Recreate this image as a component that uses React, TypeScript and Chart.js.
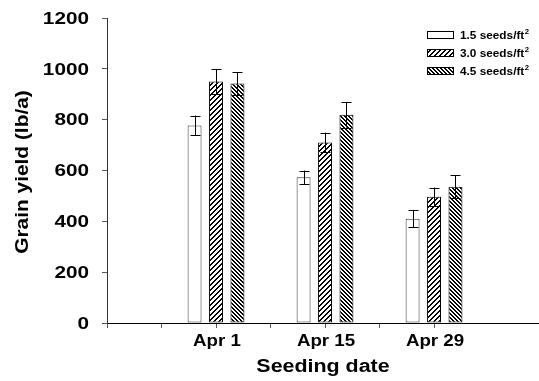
import React, { useEffect, useRef } from "react";
import { Chart, registerables } from "chart.js";

Chart.register(...registerables);

// Seeding dates and their positions on the x axis
const seedingDates = ["Apr 1", "Apr 15", "Apr 29"];
const datePositions = [1, 2, 3];

// Grain yield (lb/a) and standard errors by seeding rate
const rates = ["1.5 seeds/ft", "3.0 seeds/ft", "4.5 seeds/ft"];
const yield15 = [777, 573, 410];
const err15 = [39, 27, 33];
const yield30 = [950, 710, 497];
const err30 = [48, 39, 36];
const yield45 = [942, 819, 536];
const err45 = [45, 50, 45];

// Axis ranges and tick values
const yTicks = [0, 200, 400, 600, 800, 1000, 1200];
const xMin = 0;
const xMax = 3.963;

const FONT = '"Liberation Sans", Arial, sans-serif';

function hatch(period: number, thick: number, forward: boolean): CanvasPattern | string {
  const c = document.createElement("canvas");
  c.width = period;
  c.height = period;
  const g = c.getContext("2d");
  if (!g) return "#888";
  g.fillStyle = "#fff";
  g.fillRect(0, 0, period, period);
  g.fillStyle = "#000";
  for (let i = 0; i < period; i++) {
    for (let t = 0; t < thick; t++) {
      const col = forward ? (period - 1 - i + t) % period : (i + t) % period;
      g.fillRect(col, i, 1, 1);
    }
  }
  const p = g.createPattern(c, "repeat");
  return p || "#888";
}

// Text drawn wider along its baseline
function wideText(
  ctx: CanvasRenderingContext2D,
  text: string,
  x: number,
  y: number,
  font: string,
  sx: number,
  align: CanvasTextAlign,
  rot = 0
) {
  ctx.save();
  ctx.translate(x, y);
  if (rot) ctx.rotate(rot);
  ctx.scale(sx, 1);
  ctx.font = font;
  ctx.textAlign = align;
  ctx.textBaseline = "middle";
  ctx.fillStyle = "#000";
  ctx.fillText(text, 0, 0);
  ctx.restore();
}

export default function App() {
  const ref = useRef<HTMLCanvasElement | null>(null);

  useEffect(() => {
    const canvas = ref.current;
    if (!canvas) return;
    const errs = [err15, err30, err45];
    const fills = [
      "#ffffff",
      hatch(5, 2, true),
      hatch(4, 2, false),
    ];
    const borders = ["#333", "#000", "#000"];

    const errorBars = {
      id: "errorBars",
      afterDatasetsDraw(chart: any) {
        const ctx = chart.ctx as CanvasRenderingContext2D;
        const ys = chart.scales.y;
        ctx.save();
        ctx.strokeStyle = "#000";
        ctx.lineWidth = 1;
        chart.data.datasets.forEach((ds: any, di: number) => {
          const meta = chart.getDatasetMeta(di);
          meta.data.forEach((el: any, i: number) => {
            const v = ds.data[i].y;
            const e = errs[di][i];
            const x = Math.round(el.x) + 0.5;
            const top = ys.getPixelForValue(v + e);
            const bot = ys.getPixelForValue(v - e);
            ctx.beginPath();
            ctx.moveTo(x, top);
            ctx.lineTo(x, bot);
            ctx.moveTo(x - 5, Math.round(top) + 0.5);
            ctx.lineTo(x + 5, Math.round(top) + 0.5);
            ctx.moveTo(x - 5, Math.round(bot) + 0.5);
            ctx.lineTo(x + 5, Math.round(bot) + 0.5);
            ctx.stroke();
          });
        });
        ctx.restore();
      },
    };

    const labels = {
      id: "labels",
      afterDraw(chart: any) {
        const ctx = chart.ctx as CanvasRenderingContext2D;
        const xs = chart.scales.x;
        const ys = chart.scales.y;
        const area = chart.chartArea;
        // y tick labels
        yTicks.forEach((t) => {
          wideText(ctx, String(t), area.left - 18, ys.getPixelForValue(t) + 1, `bold 17px ${FONT}`, 1.22, "right");
        });
        // x tick labels
        seedingDates.forEach((d, i) => {
          wideText(ctx, d, xs.getPixelForValue(datePositions[i]) + 1, area.bottom + 19, `bold 16px ${FONT}`, 1.17, "center");
        });
        // axis titles
        wideText(ctx, "Seeding date", (area.left + area.right) / 2, area.bottom + 44, `bold 18px ${FONT}`, 1.19, "center");
        wideText(ctx, "Grain yield (lb/a)", 23, 172, `bold 18px ${FONT}`, 1.16, "center", -Math.PI / 2);

        // legend
        const lx = 427;
        const tx = 460;
        const rows = [35, 53, 71];
        rates.forEach((r, i) => {
          const cy = rows[i];
          ctx.save();
          ctx.fillStyle = fills[i] as any;
          ctx.fillRect(lx, cy - 4, 27, 8);
          ctx.strokeStyle = "#000";
          ctx.lineWidth = 1;
          ctx.strokeRect(lx + 0.5, cy - 3.5, 26, 7);
          ctx.restore();
          wideText(ctx, r, tx, cy + 1, `bold 10px ${FONT}`, 1.18, "left");
          ctx.save();
          ctx.font = `bold 10px ${FONT}`;
          const w = ctx.measureText(r).width * 1.18;
          ctx.restore();
          wideText(ctx, "2", tx + w + 0.5, cy - 3, `bold 7px ${FONT}`, 1.1, "left");
        });
      },
    };

    const mk = (vals: number[], i: number) => ({
      label: rates[i],
      data: vals.map((v, k) => ({ x: datePositions[k], y: v })),
      backgroundColor: fills[i] as any,
      borderColor: borders[i],
      borderWidth: 1,
      borderSkipped: false as any,
      categoryPercentage: 1.18,
      barPercentage: 0.65,
    });

    const chart = new Chart(canvas, {
      type: "bar",
      data: {
        datasets: [mk(yield15, 0), mk(yield30, 1), mk(yield45, 2)],
      },
      options: {
        responsive: false,
        animation: false,
        layout: { padding: { left: 0, top: 18, right: 0, bottom: 0 } },
        plugins: {
          legend: { display: false },
          tooltip: { enabled: false },
        },
        scales: {
          x: {
            type: "linear",
            offset: false,
            min: xMin,
            max: xMax,
            ticks: { display: false, stepSize: 0.5 },
            afterBuildTicks: (s: any) => {
              s.ticks = s.ticks.filter((t: any) => Math.abs(t.value * 2 - Math.round(t.value * 2)) < 1e-6);
            },
            afterFit: (s: any) => {
              s.height = 58;
            },
            grid: { offset: false, drawOnChartArea: false, drawTicks: true, tickLength: 5, color: "#555" },
            border: { color: "#000", width: 1 },
          },
          y: {
            min: 0,
            max: 1200,
            ticks: { display: false, stepSize: 200 },
            afterFit: (s: any) => {
              s.width = 107;
            },
            grid: { drawOnChartArea: false, drawTicks: true, tickLength: 5, color: "#555" },
            border: { color: "#333", width: 1 },
          },
        },
      },
      plugins: [errorBars, labels],
    });
    return () => chart.destroy();
  }, []);

  return (
    <div style={{ position: "fixed", left: 0, top: 0, width: 539, height: 381, background: "#fff" }}>
      <canvas ref={ref} width={539} height={381} style={{ display: "block" }} />
    </div>
  );
}
